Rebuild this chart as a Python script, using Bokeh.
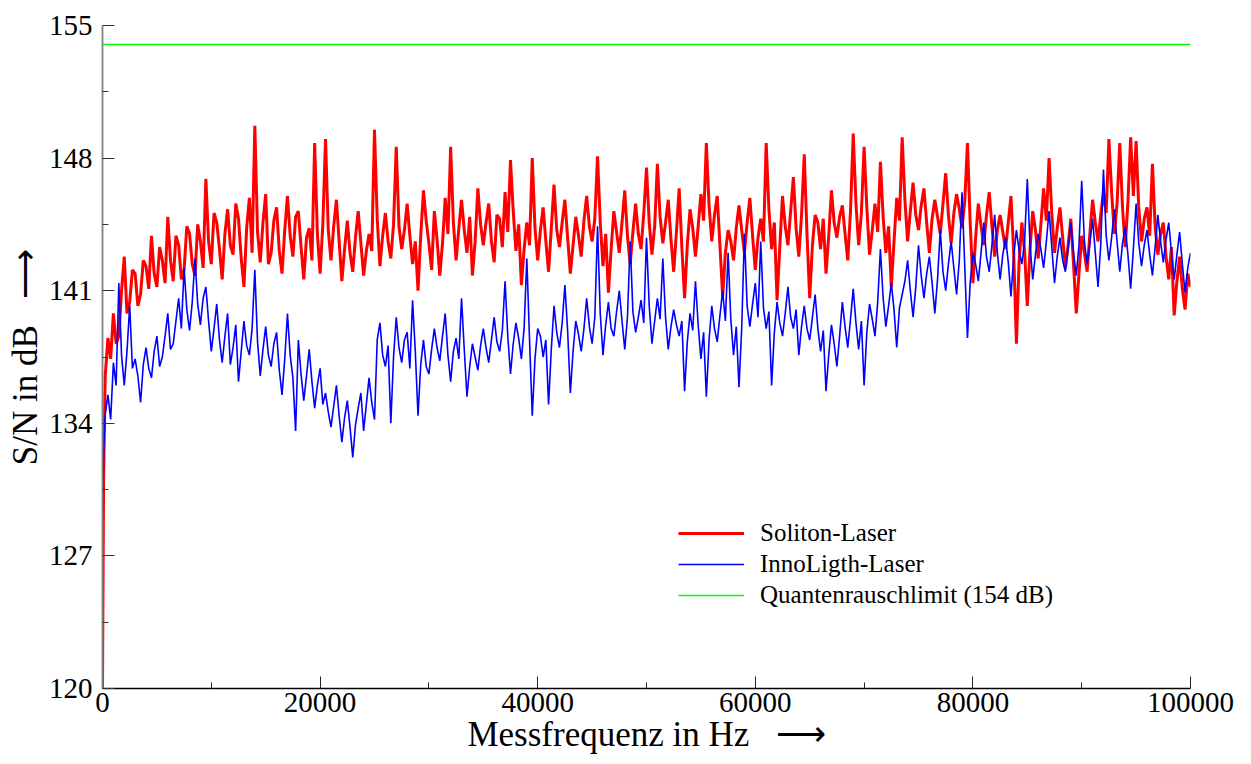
from bokeh.plotting import figure
from bokeh.models import Range1d, FixedTicker, Legend, LegendItem, NumeralTickFormatter
from bokeh.embed import file_html
from bokeh.resources import INLINE

# ---------------- data ----------------
freq = [0, 100] + list(range(250, 100001, 250))   # measurement grid in Hz

soliton = [
    120.0, 131.0,
    136.5, 138.5, 137.4, 139.8, 138.2, 138.6, 141.0, 142.8, 139.8, 140.4, 142.1, 141.9, 140.2, 140.8, 142.6, 142.3, 141.1, 143.9, 141.9, 141.2,
    143.3, 142.6, 141.4, 144.9, 142.6, 141.5, 143.9, 143.4, 141.6, 142.1, 144.4, 144.0, 142.4, 141.8, 144.5, 143.6, 142.2, 146.9, 143.6, 142.4,
    145.1, 144.6, 143.2, 141.6, 144.0, 145.3, 143.4, 142.9, 145.6, 144.8, 142.7, 141.2, 144.3, 145.9, 143.0, 149.7, 144.1, 142.5, 144.6, 146.1,
    142.4, 143.0, 144.7, 145.4, 143.1, 141.9, 144.2, 146.0, 143.9, 142.8, 144.9, 145.2, 143.3, 141.6, 143.8, 144.3, 142.6, 148.8, 144.0, 141.9,
    144.5, 149.0, 144.2, 142.6, 144.4, 145.8, 143.6, 141.5, 143.2, 144.7, 143.0, 142.0, 143.8, 145.2, 143.5, 141.8, 143.1, 144.0, 143.1, 149.5,
    144.8, 142.3, 143.9, 145.1, 143.6, 142.7, 144.5, 148.6, 144.4, 143.2, 144.2, 145.6, 143.9, 142.4, 143.6, 141.0, 143.9, 146.3, 144.7, 143.5,
    142.1, 145.2, 143.7, 141.8, 143.5, 145.9, 144.0, 148.6, 144.6, 142.6, 144.3, 145.8, 144.2, 143.0, 144.9, 141.8, 143.6, 146.4, 144.5, 143.4,
    144.6, 145.6, 143.6, 142.5, 145.0, 144.8, 143.3, 146.2, 144.1, 147.9, 145.2, 143.1, 144.5, 141.3, 143.2, 144.6, 143.4, 148.0, 144.3, 142.6,
    144.2, 145.4, 143.6, 142.0, 144.3, 146.6, 144.2, 143.3, 144.6, 145.8, 143.8, 141.9, 143.4, 144.9, 143.9, 142.8, 144.7, 146.0, 144.4, 143.6,
    144.8, 148.1, 144.6, 142.3, 144.0, 140.9, 143.2, 145.2, 144.1, 143.0, 144.6, 146.3, 143.9, 142.4, 144.1, 145.6, 144.0, 143.2, 145.1, 147.5,
    144.6, 142.9, 144.4, 147.7, 144.9, 143.5, 144.6, 145.8, 143.7, 142.0, 144.1, 146.4, 143.3, 140.6, 143.4, 145.3, 144.3, 142.8, 144.4, 146.1,
    144.7, 148.8, 145.5, 143.6, 145.0, 146.0, 143.4, 140.7, 143.0, 144.2, 143.6, 142.6, 144.3, 145.5, 144.2, 143.0, 144.6, 145.9, 143.9, 142.1,
    143.8, 144.8, 143.6, 148.8, 145.3, 143.2, 144.6, 140.5, 143.3, 146.0, 144.4, 143.4, 145.2, 147.0, 144.3, 142.8, 145.0, 148.2, 144.0, 140.6,
    143.4, 145.0, 144.6, 143.2, 144.8, 141.9, 143.9, 146.3, 144.6, 143.8, 144.9, 145.5, 144.0, 142.6, 145.2, 149.3, 145.6, 143.4, 145.1, 148.6,
    145.4, 142.9, 144.2, 145.6, 144.1, 147.8, 144.9, 143.0, 144.4, 141.2, 143.6, 145.9, 144.7, 149.1, 145.8, 143.6, 145.2, 146.7, 145.0, 144.2,
    145.5, 146.4, 144.6, 143.0, 144.8, 145.8, 144.9, 144.0, 145.6, 147.2, 145.0, 143.5, 145.1, 146.1, 145.3, 144.3, 145.7, 148.8, 144.6, 141.4,
    143.8, 145.6, 144.4, 143.4, 145.0, 146.2, 144.4, 142.8, 144.2, 145.0, 144.1, 143.2, 144.6, 146.0, 143.0, 138.2, 142.6, 144.6, 143.1, 140.2,
    143.2, 145.2, 144.2, 142.7, 144.5, 146.4, 144.7, 148.0, 145.1, 143.0, 144.3, 145.4, 143.8, 142.2, 143.4, 144.8, 142.4, 139.8, 141.9, 143.9,
    143.0, 142.0, 144.0, 145.8, 144.6, 143.6, 145.0, 146.2, 145.1, 149.0, 146.2, 144.0, 145.6, 148.8, 145.4, 143.3, 145.7, 149.1, 146.0, 148.9,
    145.3, 143.6, 144.8, 145.4, 143.9, 147.7, 144.4, 142.9, 144.0, 144.6, 142.8, 141.6, 143.3, 139.7, 141.5, 142.8, 141.1, 140.0, 141.9, 141.2,
]

innolight = [
    129.0, 132.5,
    134.5, 135.5, 134.2, 137.2, 136.0, 141.4, 137.6, 136.0, 137.8, 140.2, 136.9, 137.4, 136.5, 135.1, 137.1, 138.0, 136.9, 136.4, 137.8, 138.6,
    137.0, 137.5, 138.6, 139.8, 137.9, 138.2, 139.4, 140.6, 139.0, 142.2, 140.0, 138.9, 140.4, 142.7, 140.3, 139.2, 140.6, 141.2, 139.4, 137.8,
    139.0, 140.3, 138.4, 137.2, 138.6, 139.8, 137.1, 138.0, 139.2, 136.2, 137.8, 139.4, 138.1, 137.6, 139.0, 142.1, 138.3, 136.5, 137.9, 139.1,
    137.6, 137.0, 138.2, 138.8, 136.8, 135.5, 137.4, 139.8, 137.6, 136.4, 133.6, 138.4, 136.6, 135.2, 136.5, 137.9, 136.2, 134.8, 136.0, 136.9,
    135.0, 135.6, 134.6, 133.8, 134.9, 136.0, 134.4, 133.0, 134.3, 135.2, 133.8, 132.2, 133.9, 134.8, 135.6, 133.6, 135.0, 136.4, 135.1, 134.2,
    138.4, 139.3, 137.6, 137.0, 138.1, 134.0, 137.5, 139.6, 138.0, 137.2, 138.4, 138.8, 136.9, 140.5, 137.8, 134.4, 137.1, 138.4, 137.0, 136.6,
    137.9, 139.0, 138.0, 137.3, 138.6, 139.8, 137.6, 136.2, 137.8, 138.5, 137.4, 140.6, 137.9, 135.4, 137.0, 138.2, 137.5, 136.8, 138.1, 139.0,
    138.0, 137.2, 138.4, 139.6, 138.3, 137.8, 138.9, 141.5, 138.6, 136.6, 138.2, 139.3, 138.5, 137.4, 139.0, 142.7, 138.4, 134.4, 137.4, 139.0,
    138.6, 137.5, 138.4, 135.0, 137.9, 140.2, 138.8, 138.0, 139.3, 141.3, 138.9, 135.6, 137.8, 139.4, 138.7, 137.8, 139.0, 140.6, 139.1, 138.2,
    139.6, 144.4, 139.8, 137.6, 139.2, 140.4, 139.0, 138.6, 139.9, 141.0, 139.4, 137.9, 139.6, 143.6, 139.9, 138.8, 139.6, 140.5, 139.3, 143.8,
    140.2, 138.2, 139.4, 140.6, 139.5, 142.7, 139.6, 137.9, 139.1, 140.0, 139.2, 138.6, 139.4, 135.7, 138.3, 139.8, 138.9, 141.5, 139.2, 137.4,
    138.8, 135.4, 138.4, 140.2, 139.0, 138.3, 139.7, 141.0, 139.4, 143.0, 139.5, 137.6, 139.1, 135.9, 139.0, 144.0, 140.2, 139.1, 140.3, 141.4,
    139.6, 143.6, 140.1, 139.0, 139.9, 136.0, 138.8, 140.4, 139.3, 138.6, 139.8, 141.2, 139.6, 139.0, 140.0, 137.6, 139.1, 140.2, 139.0, 138.4,
    139.6, 140.8, 139.0, 137.8, 138.9, 135.7, 137.6, 139.2, 138.2, 137.0, 138.6, 140.4, 139.1, 138.0, 139.5, 141.1, 139.3, 137.9, 139.4, 136.0,
    138.8, 140.3, 139.5, 138.6, 140.4, 143.2, 140.6, 139.1, 140.2, 141.4, 140.0, 138.0, 140.1, 140.8, 141.5, 142.6, 141.0, 139.6, 141.2, 143.4,
    141.8, 140.6, 141.9, 142.8, 141.4, 139.8, 141.6, 144.2, 142.0, 141.0, 142.4, 143.6, 142.2, 140.8, 142.6, 146.2, 142.3, 138.5, 141.4, 143.0,
    142.4, 141.5, 143.0, 144.6, 142.8, 142.0, 143.4, 145.0, 143.0, 141.6, 142.9, 143.8, 142.5, 140.7, 142.8, 144.2, 143.1, 142.4, 143.6, 146.9,
    143.4, 141.6, 142.9, 144.0, 143.2, 142.2, 143.6, 145.2, 143.3, 141.4, 142.8, 143.8, 142.6, 142.0, 143.2, 144.6, 143.0, 141.8, 143.4, 146.8,
    143.6, 142.4, 143.5, 144.8, 143.0, 141.2, 143.4, 147.4, 143.9, 142.6, 143.8, 145.3, 143.6, 142.0, 143.5, 144.4, 142.9, 141.1, 143.2, 145.6,
    143.5, 142.3, 143.4, 144.2, 142.9, 141.8, 143.3, 145.0, 143.6, 142.5, 143.7, 144.6, 143.0, 141.6, 142.9, 144.1, 142.4, 140.9, 142.2, 143.0,
]

quantum_limit = 154.0
freq_limits = [0, 100000]

y_ticks = [120, 127, 134, 141, 148, 155]
y_minor = [123.5, 130.5, 137.5, 144.5, 151.5]
x_ticks = [0, 20000, 40000, 60000, 80000, 100000]
x_minor = [10000, 30000, 50000, 70000, 90000]

series_labels = ["Soliton-Laser", "InnoLigth-Laser", "Quantenrauschlimit (154 dB)"]
ARROW = "\u00a0\u00a0\u00a0\u27f6"
x_title = "Messfrequenz in Hz" + ARROW
y_title = "S/N in dB" + ARROW

assert len(freq) == len(soliton) == len(innolight)

# ---------------- figure ----------------
FONT = "Liberation Serif"

p = figure(width=1243, height=763, output_backend="svg", toolbar_location=None,
           x_range=Range1d(0, 100000), y_range=Range1d(120, 155),
           min_border_left=102, min_border_right=53, min_border_top=25, min_border_bottom=75)
p.xgrid.visible = False
p.ygrid.visible = False
p.outline_line_color = None
p.background_fill_color = "white"
p.border_fill_color = "white"

r_red = p.line(freq, soliton, line_color="#ff0000", line_width=3)
r_blue = p.line(freq, innolight, line_color="#0000ff", line_width=1.6)
r_green = p.line(freq_limits, [quantum_limit, quantum_limit], line_color="#00ff00", line_width=1.6)

xa = p.xaxis[0]
xa.ticker = FixedTicker(ticks=x_ticks, minor_ticks=x_minor)
xa.formatter = NumeralTickFormatter(format="0")
xa.major_tick_in = 12
xa.major_tick_out = 0
xa.minor_tick_in = 6
xa.minor_tick_out = 0
xa.axis_line_color = "black"
xa.axis_line_width = 1.5
xa.major_tick_line_color = "#222222"
xa.minor_tick_line_color = "#222222"
xa.major_label_text_font = FONT
xa.major_label_text_font_size = "29px"
xa.major_label_text_color = "black"
xa.major_label_standoff = 4
xa.axis_label = x_title
xa.axis_label_text_font = FONT
xa.axis_label_text_font_size = "35px"
xa.axis_label_text_font_style = "normal"
xa.axis_label_text_color = "black"
xa.axis_label_standoff = 0

ya = p.yaxis[0]
ya.ticker = FixedTicker(ticks=y_ticks, minor_ticks=y_minor)
ya.major_tick_in = 12
ya.major_tick_out = 0
ya.minor_tick_in = 6
ya.minor_tick_out = 0
ya.axis_line_color = "#808080"
ya.axis_line_width = 1.8
ya.major_tick_line_color = "#333333"
ya.minor_tick_line_color = "#333333"
ya.major_label_text_font = FONT
ya.major_label_text_font_size = "29px"
ya.major_label_text_color = "black"
ya.major_label_standoff = 10
ya.axis_label = y_title
ya.axis_label_text_font = FONT
ya.axis_label_text_font_size = "35px"
ya.axis_label_text_font_style = "normal"
ya.axis_label_text_color = "black"
ya.axis_label_standoff = 1

legend = Legend(items=[LegendItem(label=series_labels[0], renderers=[r_red]),
                       LegendItem(label=series_labels[1], renderers=[r_blue]),
                       LegendItem(label=series_labels[2], renderers=[r_green])],
                location=(576, 78), orientation="vertical",
                glyph_width=66, glyph_height=30, label_height=30, spacing=1,
                padding=0, margin=0, label_standoff=16,
                border_line_color=None, background_fill_alpha=0,
                label_text_font=FONT, label_text_font_size="25px", label_text_color="black")
p.add_layout(legend)

open("out.html", "w").write(file_html(p, INLINE))
